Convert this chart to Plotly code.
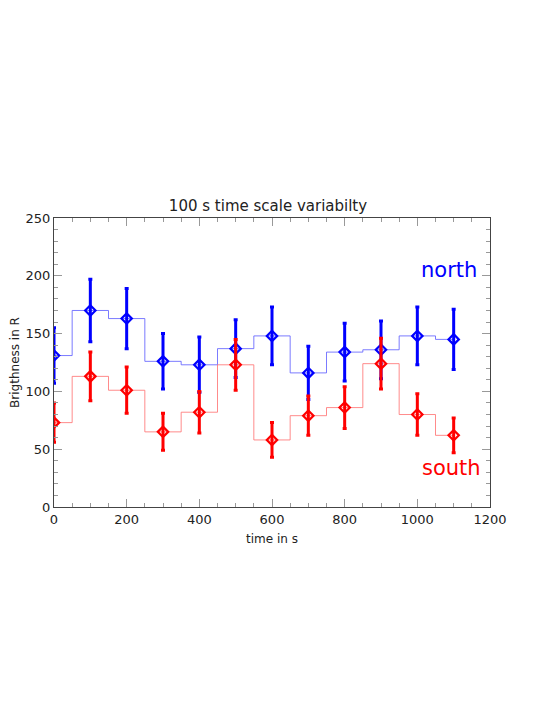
import plotly.graph_objects as go

time_s = [0, 100, 200, 300, 400, 500, 600, 700, 800, 900, 1000, 1100]
north = [131, 170, 163, 126, 123, 137, 148, 116, 134, 136, 148, 145]
north_err = [24, 27, 26, 24, 24, 25, 25, 23, 25, 25, 25, 26]
south = [73, 113, 101, 65, 82, 123, 58, 79, 86, 124, 80, 62]
south_err = [17, 21, 20, 16, 18, 22, 15, 17, 18, 22, 18, 15]

fig = go.Figure()

fig.add_trace(go.Scatter(x=time_s, y=north, mode="lines", line_shape="hvh",
                         line=dict(color="rgba(90,90,255,0.8)", width=1), hoverinfo="skip"))
fig.add_trace(go.Scatter(x=time_s, y=south, mode="lines", line_shape="hvh",
                         line=dict(color="rgba(255,110,110,0.8)", width=1), hoverinfo="skip"))
fig.add_trace(go.Scatter(x=time_s, y=north, mode="markers",
                         marker=dict(symbol="diamond-open", size=8, color="#0000ff", line=dict(width=2.2, color="#0000ff")),
                         error_y=dict(type="data", array=north_err, color="#0000ff", thickness=3, width=2)))
fig.add_trace(go.Scatter(x=time_s, y=south, mode="markers",
                         marker=dict(symbol="diamond-open", size=8, color="#ff0000", line=dict(width=2.2, color="#ff0000")),
                         error_y=dict(type="data", array=south_err, color="#ff0000", thickness=3, width=2)))

font = "DejaVu Sans, sans-serif"
axis_common = dict(
    showgrid=False, zeroline=False, showline=True, linecolor="#444", linewidth=1,
    mirror="allticks", ticks="inside", tickcolor="#999", ticklen=8, tickwidth=1,
    tickfont=dict(size=13, color="#222", family=font), automargin=False,
)

fig.update_xaxes(range=[0, 1200], tickvals=[0, 200, 400, 600, 800, 1000, 1200],
                 minor=dict(dtick=50, tick0=0, ticks="inside", ticklen=4, tickcolor="#999"),
                 title=dict(text="time in s", font=dict(size=12, color="#222", family=font), standoff=9),
                 **axis_common)
fig.update_yaxes(range=[0, 250], tickvals=[0, 50, 100, 150, 200, 250],
                 minor=dict(dtick=10, tick0=0, ticks="inside", ticklen=4, tickcolor="#999"),
                 title=dict(text="Brigthness in R", font=dict(size=12, color="#222", family=font), standoff=16),
                 **axis_common)

fig.add_annotation(x=1170, y=205, xref="x", yref="y", text="north", showarrow=False,
                   xanchor="right", yanchor="middle", font=dict(size=21, color="#0000ff", family=font))
fig.add_annotation(x=1181, y=34, xref="x", yref="y", text="south", showarrow=False,
                   xanchor="right", yanchor="middle", font=dict(size=21, color="#ff0000", family=font))

W, H = 537, 719
fig.update_layout(
    width=W, height=H,
    margin=dict(l=46, r=55, t=210, b=220),
    plot_bgcolor="white", paper_bgcolor="white",
    showlegend=False,
    title=dict(text="100 s time scale variabilty", x=(268 - 8) / W, xanchor="center", y=1 - 198 / H, yanchor="middle",
               font=dict(size=15, color="#222", family=font)),
)

fig.write_html("out.html")
